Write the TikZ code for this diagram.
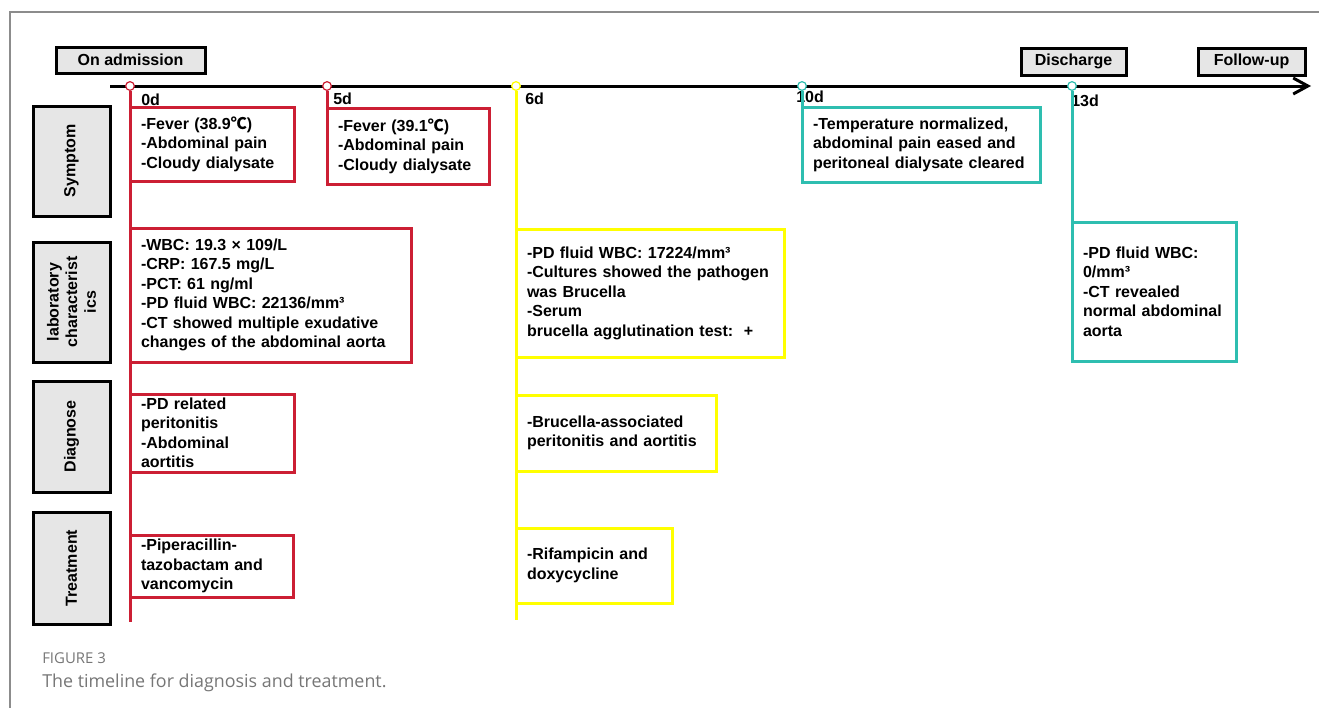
\documentclass[tikz,border=0pt]{standalone}
\usepackage{fontspec}
\setmainfont{Liberation Sans}
\newfontfamily\cjk{Noto Sans CJK SC}
\newfontfamily\capfont{Open Sans}
\usetikzlibrary{arrows.meta}
\definecolor{evred}{RGB}{204,31,52}
\definecolor{evyellow}{RGB}{255,255,0}
\definecolor{evteal}{RGB}{46,190,176}
\definecolor{labgray}{RGB}{230,230,230}
\definecolor{framegray}{RGB}{140,140,140}
\definecolor{capgray}{RGB}{118,118,118}
\tikzset{
  txt/.style={font=\fontsize{12}{14.6}\selectfont\bfseries},
  evbox/.style={txt, draw=#1, line width=2.25pt, fill=white, anchor=north west,
    align=left, inner xsep=8.25pt, inner ysep=0pt, outer sep=0pt},
  evsize/.code 2 args={%
    \pgfmathsetmacro\evw{#1*0.75}\pgfmathsetmacro\evh{#2*0.75}%
    \pgfmathsetmacro\evt{(#1-22)*0.75}%
    \edef\evtmp{\noexpand\pgfkeysalso{minimum width=\evw pt,minimum height=\evh pt,text width=\evt pt}}\evtmp},
  boxsize/.code 2 args={%
    \pgfmathsetmacro\evw{#1*0.75}\pgfmathsetmacro\evh{#2*0.75}%
    \edef\evtmp{\noexpand\pgfkeysalso{minimum width=\evw pt,minimum height=\evh pt}}\evtmp},
  headbox/.style={txt, draw=black, line width=2.25pt, fill=labgray, inner sep=0pt},
  catbox/.style={headbox, rotate=90, align=center, font=\fontsize{12}{14}\selectfont\bfseries},
  daymark/.style={circle, draw=#1, fill=white, line width=0.9pt, minimum size=6.5pt, inner sep=0pt},
  dayline/.style={draw=#1, line width=2.25pt},
  daylab/.style={txt, anchor=base west, inner sep=0pt},
}
\begin{document}
\begin{tikzpicture}[x=0.75pt,y=-0.75pt]
  \useasboundingbox (0,0) rectangle (1319,708);
  % frame
  \draw[framegray, line width=1.1pt] (1319,12) -- (10,12) -- (10,708);
  % time axis
  \coordinate (ax0) at (110,86);
  \coordinate (ax1) at (1311,86);
  \draw[line width=2.25pt, -{Straight Barb[length=11pt,width=12pt]}] (ax0) -- (ax1);
  \node[headbox, boxsize={149}{26}] (adm) at (130.5,60) {On admission};
  \node[headbox, boxsize={105}{27}] (dis) at (1073.5,61.5) {Discharge};
  \node[headbox, boxsize={107}{27}] (fol) at (1251.5,61.5) {Follow-up};
  % row labels
  \node[catbox, boxsize={110}{77}] (cSym) at (71.5,161) {Symptom};
  \node[catbox, boxsize={120}{77}] (cLab) at (71.5,302) {laboratory\\characterist\\ics};
  \node[catbox, boxsize={111}{77}] (cDia) at (71.5,436.5) {Diagnose};
  \node[catbox, boxsize={112}{77}] (cTre) at (71.5,568) {Treatment};
  % days
  \node[daymark=evred] (m0) at (130,86) {};
  \node[daymark=evred] (m5) at (327,86) {};
  \node[daymark=evyellow] (m6) at (516,86) {};
  \node[daymark=evteal] (m10) at (802,86) {};
  \node[daymark=evteal] (m13) at (1072,86) {};
  \node[daylab] (d0lab) at (141,105) {0d};
  \node[daylab] (d5lab) at (333,104) {5d};
  \node[daylab] (d6lab) at (525,104) {6d};
  \node[daylab] (d10lab) at (796,102) {10d};
  \node[daylab] (d13lab) at (1071,106) {13d};
  \coordinate (e0) at (130,622);
  \coordinate (e6) at (516,620);
  \draw[dayline=evred] (m0) -- (e0);
  \draw[dayline=evyellow] (m6) -- (e6);
  % day 0
  \node[evbox=evred, evsize={164}{74}] (s0) at (130,107)
    {-Fever (38.9{\cjk ℃})\\-Abdominal pain\\-Cloudy dialysate};
  \node[evbox=evred, evsize={281}{134}] (l0) at (130,228)
    {-WBC: 19.3 × 109/L\\-CRP: 167.5 mg/L\\-PCT: 61 ng/ml\\-PD fluid WBC: 22136/mm³\\-CT showed multiple exudative\\changes of the abdominal aorta};
  \node[evbox=evred, evsize={164}{78}] (dg0) at (130,394)
    {-PD related\\peritonitis\\-Abdominal\\aortitis};
  \node[evbox=evred, evsize={163}{62}] (t0) at (130,535)
    {-Piperacillin-\\tazobactam and\\vancomycin};
  % day 5
  \node[evbox=evred, evsize={162}{76}] (s5) at (327,108)
    {-Fever (39.1{\cjk ℃})\\-Abdominal pain\\-Cloudy dialysate};
  \draw[dayline=evred] (m5) -- (s5.north west);
  % day 6
  \node[evbox=evyellow, evsize={268}{128}] (l6) at (516,229)
    {-PD fluid WBC: 17224/mm³\\-Cultures showed the pathogen\\was Brucella\\-Serum\\brucella agglutination test:~~+};
  \node[evbox=evyellow, evsize={200}{76}] (dg6) at (516,395)
    {-Brucella-associated\\peritonitis and aortitis};
  \node[evbox=evyellow, evsize={156}{75}] (t6) at (516,528)
    {-Rifampicin and\\doxycycline};
  % day 10
  \node[evbox=evteal, evsize={238}{75}] (s10) at (802,107)
    {-Temperature normalized,\\abdominal pain eased and\\peritoneal dialysate cleared};
  \draw[dayline=evteal] (m10) -- (s10.north west);
  % day 13
  \node[evbox=evteal, evsize={164}{139}] (l13) at (1072,222)
    {-PD fluid WBC:\\0/mm³\\-CT revealed\\normal abdominal\\aorta};
  \draw[dayline=evteal] (m13) -- (l13.north west);
  % caption
  \node[anchor=base west, inner sep=0pt, text=capgray, font=\capfont\fontsize{11.2}{13}\selectfont] (fig) at (42,663) {FIGURE 3};
  \node[anchor=base west, inner sep=0pt, text=capgray, font=\capfont\fontsize{13.4}{16}\selectfont] (cap) at (42,687) {The timeline for diagnosis and treatment.};
\end{tikzpicture}
\end{document}
